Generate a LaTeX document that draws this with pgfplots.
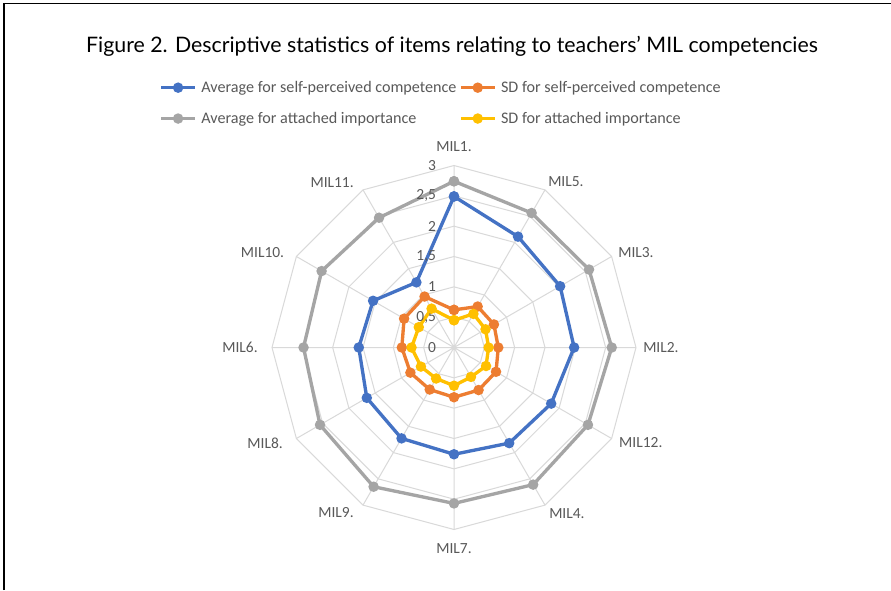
\documentclass[border=0pt]{standalone}
\usepackage{pgfplots}
\pgfplotsset{compat=1.18}
\usepackage{pgfplotstable}
\usepgfplotslibrary{polar}
\usepackage{fontspec}
\setmainfont{Carlito}
\newfontfamily\titlefont{Lato}
\definecolor{cblue}{HTML}{4472C4}
\definecolor{corange}{HTML}{ED7D31}
\definecolor{cgray}{HTML}{A5A5A5}
\definecolor{cyellow}{HTML}{FFC000}
\definecolor{gridc}{HTML}{D9D9D9}
\definecolor{txt}{HTML}{595959}

\pgfplotstableread{
ang avgself sdself avgimp sdimp
90  2.49 0.62 2.74 0.45
60  2.11 0.78 2.56 0.64
30  2.02 0.76 2.57 0.60
0   1.98 0.73 2.60 0.57
330 1.85 0.80 2.55 0.61
300 1.82 0.81 2.61 0.56
270 1.76 0.82 2.57 0.63
240 1.73 0.80 2.65 0.59
210 1.66 0.83 2.55 0.63
180 1.57 0.86 2.48 0.70
150 1.54 0.95 2.52 0.67
120 1.24 0.97 2.47 0.74
90  2.49 0.62 2.74 0.45
}\datatab

\pgfplotstableread{
ang r05 r10 r15 r20 r25 r30
0   0.5 1 1.5 2 2.5 3
30  0.5 1 1.5 2 2.5 3
60  0.5 1 1.5 2 2.5 3
90  0.5 1 1.5 2 2.5 3
120 0.5 1 1.5 2 2.5 3
150 0.5 1 1.5 2 2.5 3
180 0.5 1 1.5 2 2.5 3
210 0.5 1 1.5 2 2.5 3
240 0.5 1 1.5 2 2.5 3
270 0.5 1 1.5 2 2.5 3
300 0.5 1 1.5 2 2.5 3
330 0.5 1 1.5 2 2.5 3
360 0.5 1 1.5 2 2.5 3
}\gridtab

\newcommand{\lblfont}{\fontsize{11.6}{13}\selectfont}
\newcommand{\legfont}{\fontsize{12.1}{13.5}\selectfont}
\tikzset{lbl/.style={text=txt, font=\lblfont}}

\begin{document}
\begin{tikzpicture}[x=0.75pt,y=0.75pt]
\path[use as bounding box] (0,0) rectangle (891,590);
\fill[white] (0,0) rectangle (891,590);
\draw[black, line width=1.2pt] (4,0) -- (4,586.5) -- (891,586.5);
\node[font=\titlefont\fontsize{16}{19}\selectfont, text=black] at (452,544) {Figure 2. Descriptive statistics of items relating to teachers’ MIL competencies};
\begin{polaraxis}[
  at={(340.5pt,181.875pt)}, anchor=center,
  scale only axis, width=273pt, height=273pt,
  clip=false,
  ymin=0, ymax=3,
  xtick={0,30,...,330},
  xticklabel={\relax},
  ytick=\empty,
  xmajorgrids, ymajorgrids=false,
  major grid style={gridc, line width=0.75pt},
  axis line style={draw=none},
  major tick length=0pt,
  legend columns=2,
  legend cell align=left,
  legend style={draw=none, fill=none, at={(axis description cs:-0.31,1.24)}, anchor=north west,
    font=\legfont, text=txt, inner sep=0pt, row sep=9.25pt,
    /tikz/every odd column/.append style={column sep=1.5pt}},
  legend image code/.code={\draw[mark repeat=2,mark phase=2] plot coordinates {(0pt,0pt) (12.75pt,0pt) (25.5pt,0pt)};},
]
\addplot[forget plot, gridc, line width=0.75pt] table[x=ang,y=r05]{\gridtab};
\addplot[forget plot, gridc, line width=0.75pt] table[x=ang,y=r10]{\gridtab};
\addplot[forget plot, gridc, line width=0.75pt] table[x=ang,y=r15]{\gridtab};
\addplot[forget plot, gridc, line width=0.75pt] table[x=ang,y=r20]{\gridtab};
\addplot[forget plot, gridc, line width=0.75pt] table[x=ang,y=r25]{\gridtab};
\addplot[forget plot, gridc, line width=0.75pt] table[x=ang,y=r30]{\gridtab};

\addplot[cblue, line width=2.5pt, mark=*, mark size=2.6pt, mark options={solid}] table[x=ang,y=avgself]{\datatab};
\addlegendentry{Average for self-perceived competence}
\addplot[corange, line width=2.5pt, mark=*, mark size=2.6pt, mark options={solid}] table[x=ang,y=sdself]{\datatab};
\addlegendentry{SD for self-perceived competence}
\addplot[cgray, line width=2.5pt, mark=*, mark size=2.6pt, mark options={solid}] table[x=ang,y=avgimp]{\datatab};
\addlegendentry{Average for attached importance}
\addplot[cyellow, line width=2.5pt, mark=*, mark size=2.6pt, mark options={solid}] table[x=ang,y=sdimp]{\datatab};
\addlegendentry{SD for attached importance}

% radial value labels
\node[lbl, anchor=east, xshift=-10pt] at (axis cs:90,0) {0};
\node[lbl, anchor=east, xshift=-10pt] at (axis cs:90,0.5) {0,5};
\node[lbl, anchor=east, xshift=-10pt] at (axis cs:90,1) {1};
\node[lbl, anchor=east, xshift=-10pt] at (axis cs:90,1.5) {1,5};
\node[lbl, anchor=east, xshift=-10pt] at (axis cs:90,2) {2};
\node[lbl, anchor=east, xshift=-10pt] at (axis cs:90,2.5) {2,5};
\node[lbl, anchor=east, xshift=-10pt] at (axis cs:90,3) {3};

% category labels
\node[lbl, inner sep=0pt, anchor=south, yshift=10pt] at (axis cs:90,3) {MIL1.};
\node[lbl, inner sep=0pt, anchor=south west, xshift=2.25pt, yshift=2.25pt] at (axis cs:60,3) {MIL5.};
\node[lbl, inner sep=0pt, anchor=west, xshift=4.8pt, yshift=3pt] at (axis cs:30,3) {MIL3.};
\node[lbl, inner sep=0pt, anchor=west, xshift=5.25pt] at (axis cs:0,3) {MIL2.};
\node[lbl, inner sep=0pt, anchor=west, xshift=5.5pt, yshift=-3.4pt] at (axis cs:330,3) {MIL12.};
\node[lbl, inner sep=0pt, anchor=north west, xshift=3pt, yshift=-2.25pt] at (axis cs:300,3) {MIL4.};
\node[lbl, inner sep=0pt, anchor=north, yshift=-10pt] at (axis cs:270,3) {MIL7.};
\node[lbl, inner sep=0pt, anchor=north east, xshift=-6.75pt, yshift=-1.5pt] at (axis cs:240,3) {MIL9.};
\node[lbl, inner sep=0pt, anchor=east, xshift=-10pt, yshift=-3.4pt] at (axis cs:210,3) {MIL8.};
\node[lbl, inner sep=0pt, anchor=east, xshift=-10.5pt] at (axis cs:180,3) {MIL6.};
\node[lbl, inner sep=0pt, anchor=east, xshift=-9pt, yshift=3pt] at (axis cs:150,3) {MIL10.};
\node[lbl, inner sep=0pt, anchor=south east, xshift=-6.75pt, yshift=1.5pt] at (axis cs:120,3) {MIL11.};
\end{polaraxis}
\end{tikzpicture}
\end{document}
